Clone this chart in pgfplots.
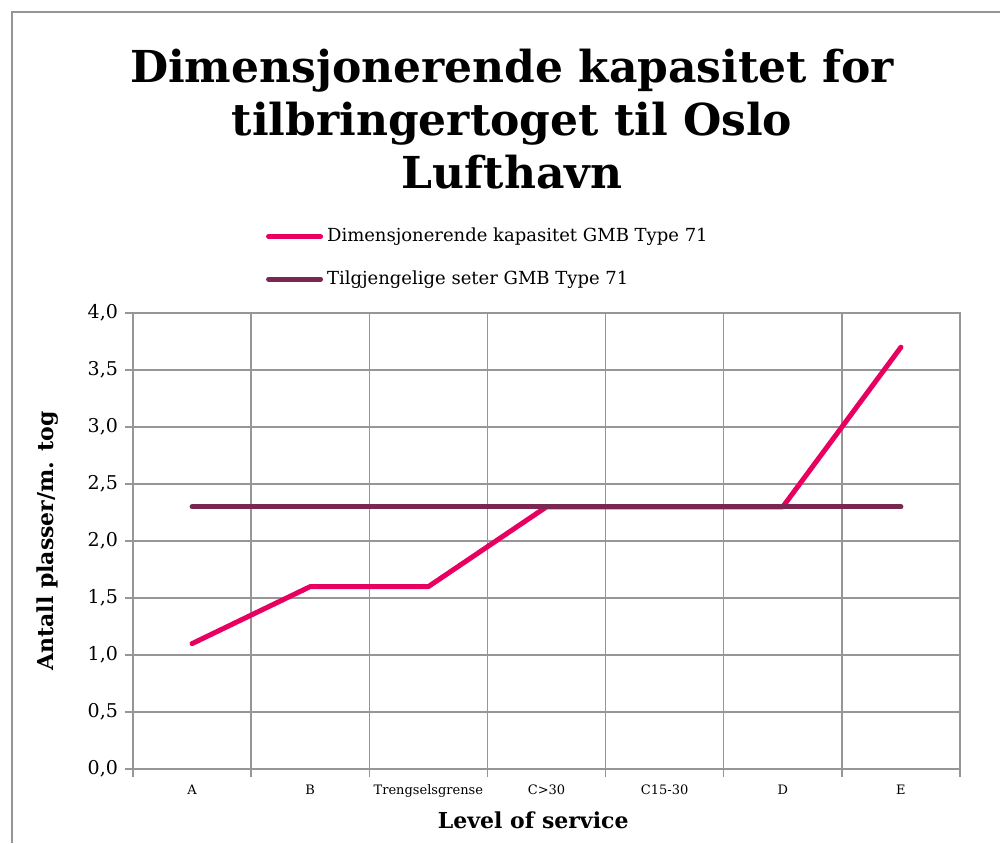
\documentclass[border=0pt]{standalone}
\usepackage{fontspec}
\setmainfont{DejaVu Serif}
\usepackage{pgfplots}
\pgfplotsset{compat=1.18}
\definecolor{dimpink}{RGB}{232,0,96}
\definecolor{setpurple}{RGB}{122,40,82}
\definecolor{gridgray}{RGB}{150,150,150}

\begin{document}
\begin{tikzpicture}
  % page = 1000 x 843 px, 1 px = 0.5 pt, axis box at (133,769)-(960,313) px
  \path[use as bounding box] (-66.5pt,-37pt) rectangle (433.5pt,384.5pt);
  \draw[gridgray,line width=1pt] (-60.5pt,-37pt) -- (-60.5pt,378.5pt) -- (433.5pt,378.5pt);

  \node[align=center,font=\fontsize{22}{26.5}\selectfont\bfseries]
    at (189.5pt,325pt) {Dimensjonerende kapasitet for\\tilbringertoget til Oslo\\Lufthavn};

  \begin{axis}[
      at={(0,0)}, anchor=south west,
      scale only axis,
      width=413.5pt, height=228pt,
      xmin=-0.5, xmax=6.5,
      ymin=0, ymax=4,
      ytick={0,0.5,...,4},
      xtick={-0.5,0.5,...,6.5},
      xticklabels={},
      extra x ticks={0,1,2,3,4,5,6},
      extra x tick labels={A,B,Trengselsgrense,C>30,C15-30,D,E},
      extra x tick style={major tick length=0pt, grid=none,
        tick label style={font=\fontsize{6.5}{8}\selectfont,yshift=-4.5pt}},
      tick pos=left,
      xmajorgrids, ymajorgrids,
      grid style={gridgray,line width=0.75pt},
      axis line style={gridgray,line width=0.75pt},
      tick style={gridgray,line width=0.75pt},
      tick align=outside,
      major tick length=4pt,
      yticklabel style={font=\fontsize{9.5}{11}\selectfont},
      /pgf/number format/.cd, use comma, fixed, fixed zerofill, precision=1,
        assume math mode=true,
      /pgfplots/.cd,
      xlabel={Level of service},
      ylabel={Antall plasser/m. tog},
      label style={font=\fontsize{11}{13}\selectfont\bfseries},
      xlabel style={at={(axis description cs:0.484,-0.112)},anchor=center},
      ylabel style={at={(axis description cs:-0.103,0.5)},anchor=center,rotate=0},
      legend style={at={(0.158,1.2)},anchor=north west,draw=none,fill=none,
        font=\fontsize{9}{11}\selectfont,row sep=9pt,inner sep=1pt},
      legend cell align=left,
      legend image code/.code={\draw[#1,line width=2.5pt,line cap=round]
        (0pt,0pt) -- (26pt,0pt);},
    ]
    \addplot[dimpink,line width=2.5pt,line cap=round,line join=round] coordinates {
      (0,1.1) (1,1.6) (2,1.6) (3,2.3) (4,2.3) (5,2.3) (6,3.7)};
    \addlegendentry{Dimensjonerende kapasitet GMB Type 71}
    \addplot[setpurple,line width=2.5pt,line cap=round,line join=round] coordinates {
      (0,2.3) (1,2.3) (2,2.3) (3,2.3) (4,2.3) (5,2.3) (6,2.3)};
    \addlegendentry{Tilgjengelige seter GMB Type 71}
  \end{axis}
\end{tikzpicture}
\end{document}
